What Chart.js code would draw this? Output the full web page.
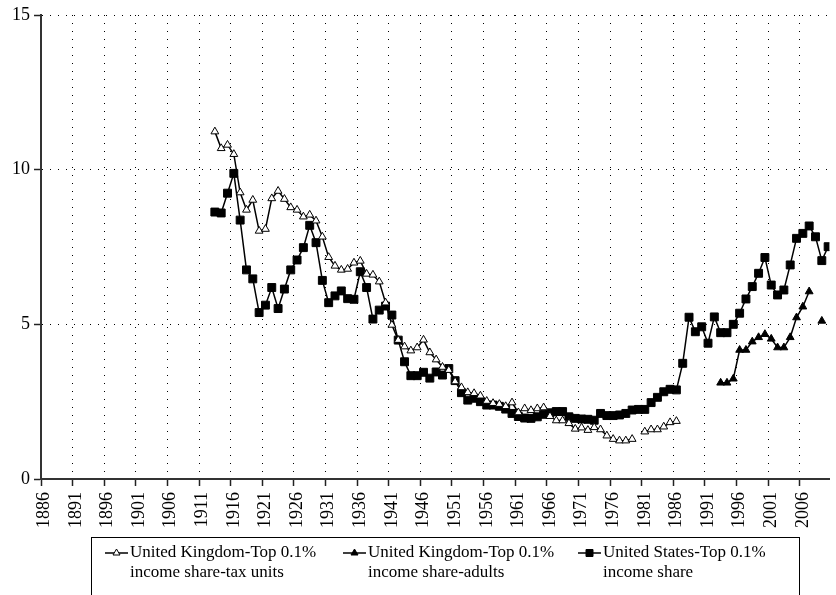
<!DOCTYPE html>
<html>
<head>
<meta charset="utf-8">
<script src="https://cdn.jsdelivr.net/npm/chart.js@4.4.0/dist/chart.umd.min.js"></script>
<style>
  html, body { margin: 0; padding: 0; background: #fff; }
  #wrap { width: 836px; height: 595px; }
</style>
</head>
<body>
<div id="wrap"><canvas id="topShareChart" width="836" height="595"></canvas></div>
<script>
// tick labels
const xTickYears = [1886, 1891, 1896, 1901, 1906, 1911, 1916, 1921, 1926, 1931, 1936, 1941, 1946,
                    1951, 1956, 1961, 1966, 1971, 1976, 1981, 1986, 1991, 1996, 2001, 2006];
const yTicks = [0, 5, 10, 15];

const seriesNames = [
    ['United Kingdom-Top 0.1%', 'income share-tax units'],
    ['United Kingdom-Top 0.1%', 'income share-adults'],
    ['United States-Top 0.1%', 'income share']
];

// United Kingdom, tax units, 1913-1986 (no figure for 1980)
const ukTaxStart = 1913;
const ukTaxValues = [
    11.23, 10.69, 10.80, 10.50, 9.26, 8.70, 9.02, 8.02, 8.08, 9.07,   // 1913-1922
    9.31, 9.05, 8.78, 8.70, 8.48, 8.54, 8.35, 7.83, 7.17, 6.89,       // 1923-1932
    6.76, 6.79, 6.99, 7.05, 6.63, 6.60, 6.38, 5.70, 4.98, 4.49,       // 1933-1942
    4.28, 4.15, 4.25, 4.50, 4.09, 3.86, 3.62, 3.52, 3.15, 2.96,       // 1943-1952
    2.80, 2.77, 2.69, 2.52, 2.45, 2.42, 2.35, 2.47, 2.15, 2.28,       // 1953-1962
    2.22, 2.28, 2.31, 2.03, 1.89, 1.89, 1.80, 1.62, 1.66, 1.58,       // 1963-1972
    1.67, 1.60, 1.40, 1.29, 1.24, 1.24, 1.29, null, 1.53, 1.60,       // 1973-1982
    1.60, 1.69, 1.83, 1.87                                            // 1983-1986
];

// United Kingdom, adults, 1993-2009 (no figure for 2008)
const ukAdultStart = 1993;
const ukAdultValues = [
    3.11, 3.11, 3.24, 4.17, 4.17, 4.44, 4.58, 4.68, 4.53, 4.25,
    4.25, 4.58, 5.22, 5.57, 6.06, null, 5.11
];

// United States, 1913-2010
const usStart = 1913;
const usValues = [
    8.63, 8.60, 9.24, 9.88, 8.37, 6.76, 6.47, 5.38, 5.62, 6.19,       // 1913-1922
    5.51, 6.14, 6.76, 7.08, 7.48, 8.20, 7.64, 6.42, 5.70, 5.92,       // 1923-1932
    6.08, 5.83, 5.81, 6.70, 6.19, 5.17, 5.46, 5.59, 5.30, 4.49,       // 1933-1942
    3.79, 3.34, 3.34, 3.45, 3.26, 3.46, 3.36, 3.57, 3.18, 2.79,       // 1943-1952
    2.55, 2.61, 2.50, 2.39, 2.39, 2.35, 2.26, 2.12, 2.02, 1.97,       // 1953-1962
    1.96, 2.01, 2.09, 2.14, 2.18, 2.18, 2.01, 1.96, 1.94, 1.93,       // 1963-1972
    1.90, 2.12, 2.05, 2.05, 2.07, 2.12, 2.23, 2.25, 2.25, 2.47,       // 1973-1982
    2.64, 2.82, 2.90, 2.88, 3.74, 5.23, 4.76, 4.92, 4.39, 5.24,       // 1983-1992
    4.73, 4.73, 5.00, 5.36, 5.82, 6.22, 6.65, 7.16, 6.27, 5.95,       // 1993-2002
    6.11, 6.92, 7.78, 7.94, 8.18, 7.83, 7.06, 7.51                    // 2003-2010
];

function toPoints(start, values) {
    return values.map((v, i) => ({ x: start + i, y: v }));
}

const serif = '"Liberation Serif", "Times New Roman", serif';

// legend drawn inside the canvas, below the axis labels
const boxLegend = {
    id: 'boxLegend',
    afterDraw(chart) {
        const ctx = chart.ctx;
        const itemX = [105, 343, 578];
        const rowY = 553;
        ctx.save();
        ctx.strokeStyle = '#000';
        ctx.lineWidth = 1;
        ctx.strokeRect(91.5, 537.5, 708, 70);
        ctx.font = '17px ' + serif;
        ctx.fillStyle = '#000';
        ctx.textBaseline = 'middle';
        ctx.textAlign = 'left';
        chart.data.datasets.forEach((ds, i) => {
            const x = itemX[i];
            ctx.lineWidth = 1.5;
            ctx.beginPath();
            ctx.moveTo(x, rowY);
            ctx.lineTo(x + 23, rowY);
            ctx.stroke();
            const cx = x + 11.5;
            ctx.lineWidth = 1;
            ctx.beginPath();
            if (ds.pointStyle === 'rect') {
                ctx.rect(cx - 3.5, rowY - 3.5, 7, 7);
            } else {
                ctx.moveTo(cx, rowY - 4);
                ctx.lineTo(cx + 3.5, rowY + 2);
                ctx.lineTo(cx - 3.5, rowY + 2);
                ctx.closePath();
            }
            ctx.fillStyle = ds.pointBackgroundColor;
            ctx.fill();
            ctx.stroke();
            ctx.fillStyle = '#000';
            ctx.fillText(seriesNames[i][0], x + 25, rowY);
            ctx.fillText(seriesNames[i][1], x + 25, rowY + 20);
        });
        ctx.restore();
    }
};

const ctx = document.getElementById('topShareChart').getContext('2d');
new Chart(ctx, {
    type: 'line',
    data: {
        datasets: [
            {
                label: seriesNames[0].join(' '),
                data: toPoints(ukTaxStart, ukTaxValues),
                borderColor: '#000',
                borderWidth: 1.5,
                pointStyle: 'triangle',
                pointRadius: 4.5,
                pointBackgroundColor: '#fff',
                pointBorderColor: '#000',
                pointBorderWidth: 1
            },
            {
                label: seriesNames[1].join(' '),
                data: toPoints(ukAdultStart, ukAdultValues),
                borderColor: '#000',
                borderWidth: 1.5,
                pointStyle: 'triangle',
                pointRadius: 4.5,
                pointBackgroundColor: '#000',
                pointBorderColor: '#000',
                pointBorderWidth: 1
            },
            {
                label: seriesNames[2].join(' '),
                data: toPoints(usStart, usValues),
                borderColor: '#000',
                borderWidth: 1.5,
                pointStyle: 'rect',
                pointRadius: 5.6,
                pointBackgroundColor: '#000',
                pointBorderColor: '#000',
                pointBorderWidth: 1
            }
        ]
    },
    options: {
        responsive: false,
        animation: false,
        devicePixelRatio: 1,
        spanGaps: false,
        layout: { padding: { top: 15, right: 0, bottom: 0, left: 0 } },
        plugins: {
            legend: { display: false },
            tooltip: { enabled: false }
        },
        scales: {
            x: {
                type: 'linear',
                min: 1885.5,
                max: 2010.2,
                afterBuildTicks: axis => {
                    axis.ticks = xTickYears.map(y => ({ value: y - 0.5 }));
                },
                afterFit: axis => { axis.height = 116; },
                ticks: {
                    autoSkip: false,
                    minRotation: 90,
                    maxRotation: 90,
                    labelOffset: 3.2,
                    padding: 6,
                    color: '#000',
                    font: { family: serif, size: 18 },
                    callback: value => String(Math.round(value + 0.5))
                },
                grid: {
                    color: '#000',
                    lineWidth: 1,
                    tickLength: 7,
                    tickColor: '#222',
                    tickWidth: 1.5
                },
                border: { color: '#333', width: 2, dash: [1, 7] }
            },
            y: {
                min: 0,
                max: 15,
                afterBuildTicks: axis => {
                    axis.ticks = yTicks.map(v => ({ value: v }));
                },
                afterFit: axis => { axis.width = 41; },
                ticks: {
                    padding: 4,
                    color: '#000',
                    font: { family: serif, size: 18 }
                },
                grid: {
                    color: '#000',
                    lineWidth: 1,
                    tickLength: 7,
                    tickColor: '#222',
                    tickWidth: 1.5
                },
                border: { color: '#333', width: 2, dash: [1, 7] }
            }
        }
    },
    plugins: [boxLegend]
});
</script>
</body>
</html>
